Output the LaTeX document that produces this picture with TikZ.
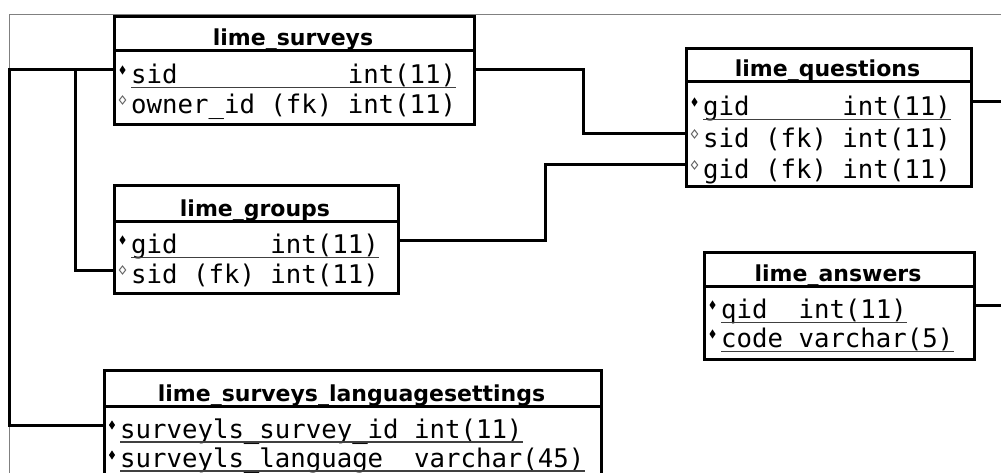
\documentclass[tikz,border=0pt]{standalone}
\usepackage{fontspec}
\setmainfont{DejaVu Sans}
\setmonofont{DejaVu Sans Mono}
\tikzset{
  tbl/.style={draw, line width=3pt, inner sep=0pt, anchor=north west, fill=white},
  sepline/.style={line width=3pt},
  hdr/.style={font=\fontsize{22}{22}\selectfont\bfseries, anchor=base, inner sep=0pt},
  rowtxt/.style={font=\fontsize{25.7}{25.7}\selectfont\ttfamily, anchor=base west, inner sep=0pt},
  ul/.style={line width=1.5pt, draw=black!75},
  pkmark/.pic={\fill[black] (0,-4.6) -- (3,0) -- (0,4.6) -- (-3,0) -- cycle;},
  fkmark/.pic={\draw[black!60, fill=white, line width=1pt] (0,-4) -- (3.2,0) -- (0,4) -- (-3.2,0) -- cycle;},
  conn/.style={line width=3pt},
  frame/.style={line width=1pt, draw=black!50}
}
\begin{document}
\begin{tikzpicture}[x=1pt,y=-1pt]
\useasboundingbox (0,0) rectangle (1001,473);
\clip (0,0) rectangle (1001,473);
\fill[white] (0,0) rectangle (1001,473);
% frame
\draw[frame] (9,480) -- (9,15) -- (1010,15);

% ---------- lime_surveys ----------
\node[tbl, minimum width=360pt, minimum height=108pt] (surveys) at (113,15) {};
\node[hdr] (surveys-h) at (293,46) {lime\_surveys};
\draw[sepline] (surveys.west |- 0,51) -- (surveys.east |- 0,51);
\coordinate (surveys-k1) at (122.5,70);
\pic at (surveys-k1) {pkmark};
\node[rowtxt] (surveys-r1) at (131,83.5) {sid~~~~~~~~~~~int(11)};
\draw[ul] ([yshift=-4pt]surveys-r1.base west) -- ([yshift=-4pt]surveys-r1.base east);
\coordinate (surveys-k2) at (122.5,100);
\pic at (surveys-k2) {fkmark};
\node[rowtxt] (surveys-r2) at (131,113.5) {owner\_id~(fk)~int(11)};

% ---------- lime_questions ----------
\node[tbl, minimum width=285pt, minimum height=138pt] (questions) at (685,47) {};
\node[hdr] (questions-h) at (827.5,77) {lime\_questions};
\draw[sepline] (questions.west |- 0,82) -- (questions.east |- 0,82);
\coordinate (questions-k1) at (694.5,102);
\pic at (questions-k1) {pkmark};
\node[rowtxt] (questions-r1) at (703,115.5) {gid~~~~~~int(11)};
\draw[ul] ([yshift=-4pt]questions-r1.base west) -- ([yshift=-4pt]questions-r1.base east);
\coordinate (questions-k2) at (694.5,134);
\pic at (questions-k2) {fkmark};
\node[rowtxt] (questions-r2) at (703,147.5) {sid~(fk)~int(11)};
\coordinate (questions-k3) at (694.5,165);
\pic at (questions-k3) {fkmark};
\node[rowtxt] (questions-r3) at (703,178.5) {gid~(fk)~int(11)};

% ---------- lime_groups ----------
\node[tbl, minimum width=284pt, minimum height=108pt] (groups) at (113,184) {};
\node[hdr] (groups-h) at (255,217) {lime\_groups};
\draw[sepline] (groups.west |- 0,222) -- (groups.east |- 0,222);
\coordinate (groups-k1) at (122.5,240);
\pic at (groups-k1) {pkmark};
\node[rowtxt] (groups-r1) at (131,253.5) {gid~~~~~~int(11)};
\draw[ul] ([yshift=-4pt]groups-r1.base west) -- ([yshift=-4pt]groups-r1.base east);
\coordinate (groups-k2) at (122.5,270);
\pic at (groups-k2) {fkmark};
\node[rowtxt] (groups-r2) at (131,283.5) {sid~(fk)~int(11)};

% ---------- lime_answers ----------
\node[tbl, minimum width=270pt, minimum height=107pt] (answers) at (703,251) {};
\node[hdr] (answers-h) at (838,281) {lime\_answers};
\draw[sepline] (answers.west |- 0,286) -- (answers.east |- 0,286);
\coordinate (answers-k1) at (712.5,305);
\pic at (answers-k1) {pkmark};
\node[rowtxt] (answers-r1) at (721,318.5) {qid~~int(11)};
\draw[ul] ([yshift=-4pt]answers-r1.base west) -- ([yshift=-4pt]answers-r1.base east);
\coordinate (answers-k2) at (712.5,334);
\pic at (answers-k2) {pkmark};
\node[rowtxt] (answers-r2) at (721,347.5) {code~varchar(5)};
\draw[ul] ([yshift=-4pt]answers-r2.base west) -- ([yshift=-4pt]answers-r2.base east);

% ---------- lime_surveys_languagesettings ----------
\node[tbl, minimum width=497pt, minimum height=140pt] (lang) at (103,369) {};
\node[hdr] (lang-h) at (351.5,401) {lime\_surveys\_languagesettings};
\draw[sepline] (lang.west |- 0,406) -- (lang.east |- 0,406);
\coordinate (lang-k1) at (112,425);
\pic at (lang-k1) {pkmark};
\node[rowtxt] (lang-r1) at (120,438) {surveyls\_survey\_id~int(11)};
\draw[ul] ([yshift=-4pt]lang-r1.base west) -- ([yshift=-4pt]lang-r1.base east);
\coordinate (lang-k2) at (112,455);
\pic at (lang-k2) {pkmark};
\node[rowtxt] (lang-r2) at (120,467.5) {surveyls\_language~~varchar(45)};
\draw[ul] ([yshift=-3.5pt]lang-r2.base west) -- ([yshift=-3.5pt]lang-r2.base east);

% ---------- connectors ----------
\coordinate (qout) at (1010,102);
\coordinate (aout) at (1010,305);
\draw[conn] (surveys.west |- surveys-k1) -- ++(-104,0) |- (lang.west |- lang-k1);
\draw[conn] (groups.west |- groups-k2) -- ++(-38,0) |- (surveys.west |- surveys-k1);
\draw[conn] (surveys.east |- surveys-k1) -- ++(107,0) |- (questions.west |- questions-k2);
\draw[conn] (groups.east |- groups-k1) -- ++(145,0) |- (questions.west |- questions-k3);
\draw[conn] (questions.east |- questions-k1) -- (qout);
\draw[conn] (answers.east |- answers-k1) -- (aout);
\end{tikzpicture}
\end{document}
